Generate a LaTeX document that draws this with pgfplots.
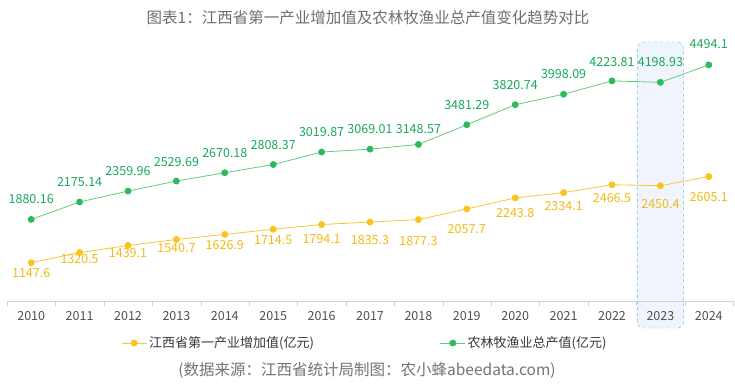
\documentclass[border=0pt]{standalone}
\usepackage{pgfplots}
\pgfplotsset{compat=1.18}
\usepackage{pgfplotstable}
\usepackage{fontspec}
\setmainfont{Noto Sans CJK SC}
\definecolor{gline}{RGB}{98,204,124}
\definecolor{gmark}{RGB}{44,186,92}
\definecolor{glab}{RGB}{24,168,92}
\definecolor{yline}{RGB}{246,198,52}
\definecolor{ymark}{RGB}{250,196,28}
\definecolor{ylab}{RGB}{242,186,18}
\definecolor{boxc}{RGB}{120,175,225}
\definecolor{boxf}{RGB}{240,245,253}
\pgfplotstableread{
x y dy lab
0 1880.16 20 1880.16
1 2175.14 20 2175.14
2 2359.96 20 2359.96
3 2529.69 19 2529.69
4 2670.18 20 2670.18
5 2808.37 20 2808.37
6 3019.87 20 3019.87
7 3069.01 20 3069.01
8 3148.57 15 3148.57
9 3481.29 20 3481.29
10 3820.74 20 3820.74
11 3998.09 20 3998.09
12 4223.81 19 4223.81
13 4198.93 20 4198.93
14 4494.1 21 4494.1
}\greentab
\pgfplotstableread{
x y dy lab
0 1147.6 -10 1147.6
1 1320.5 -7 1320.5
2 1439.1 -8 1439.1
3 1540.7 -9 1540.7
4 1626.9 -11 1626.9
5 1714.5 -11 1714.5
6 1794.1 -15 1794.1
7 1835.3 -18 1835.3
8 1877.3 -21 1877.3
9 2057.7 -20 2057.7
10 2243.8 -15 2243.8
11 2334.1 -13 2334.1
12 2466.5 -13 2466.5
13 2450.4 -18 2450.4
14 2605.1 -20 2605.1
}\yellowtab
\pgfplotsset{myframe/.style={
  at={(7pt,-301pt)}, anchor=south west,
  scale only axis, width=726pt, height=266pt,
  xmin=-0.5, xmax=14.5, ymin=500, ymax=5000,
  clip=false}}
\begin{document}
\begin{tikzpicture}
\path[use as bounding box] (0,0) rectangle (735pt,-384pt);
\node[font=\fontsize{15.5}{18}\selectfont, text={rgb,255:red,110;green,110;blue,110}] at (368pt,-18pt) {图表1：江西省第一产业增加值及农林牧渔业总产值变化趋势对比};
\node[font=\fontsize{15.5}{18}\selectfont, text={rgb,255:red,115;green,115;blue,115}] at (367pt,-370pt) {(数据来源：江西省统计局制图：农小蜂abeedata.com)};
\begin{axis}[myframe, hide axis]
\draw[dashed, draw=boxc, rounded corners=6pt, fill=boxf] (axis cs:12.525,43) rectangle (axis cs:13.475,4881);
\end{axis}
\begin{axis}[
  myframe,
  hide y axis,
  axis x line*=bottom,
  x axis line style={draw={rgb,255:red,210;green,210;blue,210}, -},
  xtick={0,...,14},
  xticklabels={2010,2011,2012,2013,2014,2015,2016,2017,2018,2019,2020,2021,2022,2023,2024},
  major x tick style={draw=none},
  minor xtick={-0.5,0.5,...,14.5},
  minor x tick style={draw={rgb,255:red,210;green,210;blue,210}},
  minor tick length=5pt,
  tick align=outside,
  xticklabel style={font=\fontsize{12.5}{14}\selectfont, text={rgb,255:red,80;green,80;blue,80}, yshift=-3pt},
  /pgf/number format/assume math mode=true,
  nodes near coords={\pgfplotspointmeta},
  nodes near coords align=center,
  legend columns=2,
  legend style={at={(0.493,-0.158)}, anchor=center, draw=none, fill=none,
    font=\fontsize{13}{15}\selectfont, text={rgb,255:red,55;green,55;blue,55},
    /tikz/every even column/.append style={column sep=124pt}},
  legend image code/.code={\draw[mark repeat=2,mark phase=2,#1] plot coordinates {(0pt,0pt)(12.5pt,0pt)(25pt,0pt)};},
]
\addplot[color=yline, line width=0.8pt, mark=*, mark size=3pt, mark options={fill=ymark, draw=ymark},
  point meta=explicit symbolic,
  visualization depends on={\thisrow{dy}\as\dy},
  every node near coord/.append style={anchor=center, yshift=\dy pt, text=ylab, font=\fontsize{12.5}{14}\selectfont}]
  table[x=x, y=y, meta=lab] {\yellowtab};
\addlegendentry{江西省第一产业增加值(亿元)}
\addplot[color=gline, line width=0.8pt, mark=*, mark size=3pt, mark options={fill=gmark, draw=gmark},
  point meta=explicit symbolic,
  visualization depends on={\thisrow{dy}\as\dy},
  every node near coord/.append style={anchor=center, yshift=\dy pt, text=glab, font=\fontsize{12.5}{14}\selectfont}]
  table[x=x, y=y, meta=lab] {\greentab};
\addlegendentry{农林牧渔业总产值(亿元)}
\end{axis}
\end{tikzpicture}
\end{document}
